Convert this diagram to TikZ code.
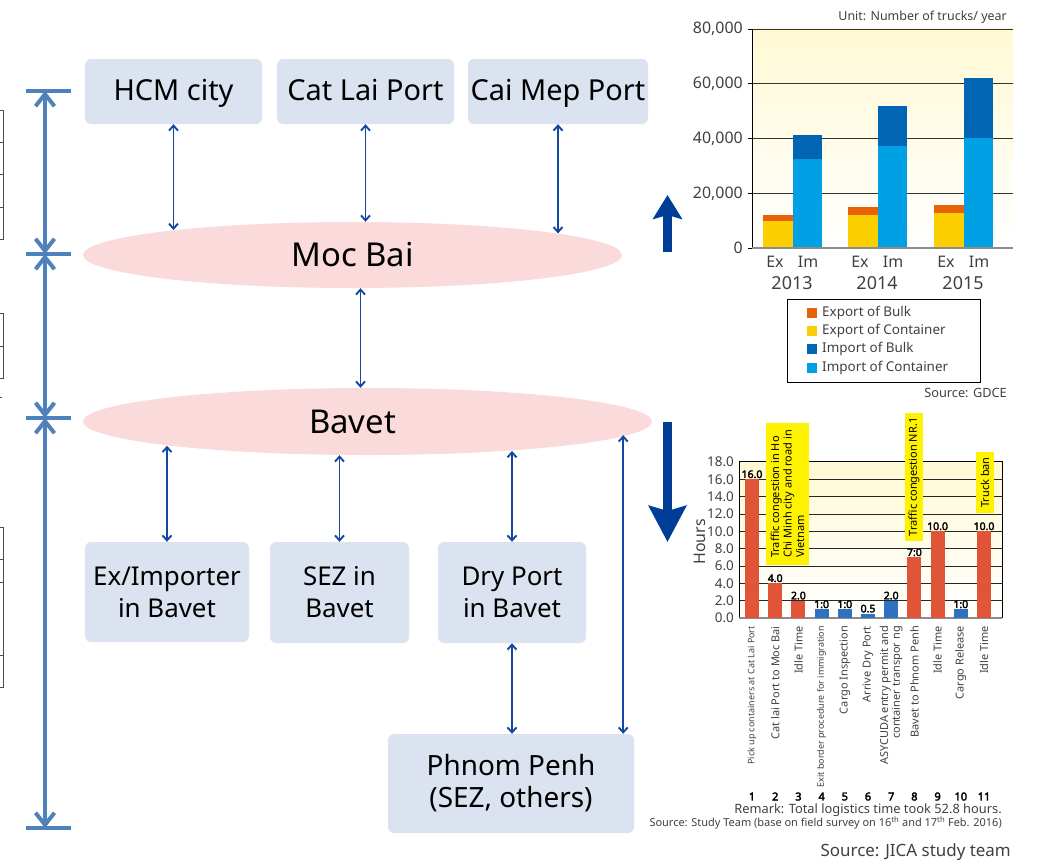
\documentclass[tikz,border=0pt]{standalone}
\usepackage{fontspec}
\setmainfont{Noto Sans}[AutoFakeBold=3]
\definecolor{rtbox}{RGB}{220,227,240}
\definecolor{rtpink}{RGB}{250,218,218}
\definecolor{rtlink}{RGB}{18,72,160}
\definecolor{rtbig}{RGB}{0,61,150}
\definecolor{rtdim}{RGB}{79,129,189}
\definecolor{rtorange}{RGB}{232,98,10}
\definecolor{rtyellow}{RGB}{251,207,0}
\definecolor{rtdark}{RGB}{0,102,179}
\definecolor{rtlight}{RGB}{0,160,228}
\definecolor{rtred}{RGB}{224,85,55}
\definecolor{rtbar}{RGB}{48,112,192}
\definecolor{rtnote}{RGB}{255,242,0}
\definecolor{rtcream}{RGB}{255,249,212}
\definecolor{rtpeach}{RGB}{250,224,200}
\definecolor{rttext}{RGB}{64,64,64}
\usetikzlibrary{arrows.meta,shapes.geometric,calc}
\newcommand{\sz}[2]{\fontsize{#1}{#2}\selectfont}

\begin{document}
\begin{tikzpicture}[x=1bp, y=-1bp,
  place/.style={fill=rtbox, rounded corners=6bp, inner sep=0pt, align=center},
  toprow/.style={place, minimum height=65bp, font=\sz{29}{29}, text height=23bp, text depth=6bp},
  hub/.style={ellipse, fill=rtpink, inner sep=0pt, font=\sz{33}{33}},
  link/.style={<->, >={Straight Barb[length=5bp,width=9bp]}, line width=1.9bp, rtlink},
  span/.style={<->, >={Straight Barb[length=12bp,width=19bp]}, line width=4bp, rtdim},
  note/.style={rotate=90, fill=rtnote, inner sep=1bp, align=left, font=\sz{11}{12.5}},
  chtext/.style={text=rttext, inner sep=1bp}]
  \useasboundingbox (0,0) rectangle (1045,866);

  %--- cut table edge ---
  \draw[line width=0.6bp, black!70] (0,110) -- (3,110) -- (3,239) -- (0,239);
  \foreach \y in {142,174,207} \draw[line width=0.6bp, black!70] (0,\y) -- (3,\y);
  \draw[line width=0.6bp, black!70] (0,313) -- (3,313) -- (3,378) -- (0,378);
  \draw[line width=0.6bp, black!70] (0,346) -- (3,346);
  \draw[line width=0.6bp, black!70] (0,397) -- (2,397);
  \draw[line width=0.6bp, black!70] (0,527) -- (3,527) -- (3,687) -- (0,687);
  \foreach \y in {559,582,655} \draw[line width=0.6bp, black!70] (0,\y) -- (3,\y);

  %--- span arrows ---
  \coordinate (d1) at (45,91);
  \coordinate (d2) at (45,254);
  \coordinate (d3) at (45,418);
  \coordinate (d4) at (45,828);
  \foreach \p in {d1,d2,d3,d4} \draw[line width=4bp, rtdim] ([xshift=-19bp]\p) -- ([xshift=26bp]\p);
  \draw[span] (d1) -- (d2);
  \draw[span] (d2) -- (d3);
  \draw[span] (d3) -- (d4);

  %--- Vietnam side ---
  \node[toprow, minimum width=177bp] (hcm) at (173.5,91.5) {HCM city};
  \node[toprow, minimum width=177bp] (catlai) at (365.5,91.5) {Cat Lai Port};
  \node[toprow, minimum width=180bp] (caimep) at (558,91.5) {Cai Mep Port};

  %--- border gates ---
  \node[hub, minimum width=539bp, minimum height=66bp] (mocbai) at (352.5,255) {Moc Bai};
  \node[hub, minimum width=569bp, minimum height=67bp] (bavet) at (367.5,421.5) {\hspace*{-30bp}Bavet};

  \draw[link] (hcm.south) -- (hcm.south |- mocbai.172);
  \draw[link] (catlai.south) -- (catlai.south |- mocbai.north);
  \draw[link] (caimep.south) -- (caimep.south |- mocbai.6);
  \coordinate (mbout) at ([xshift=8bp]mocbai.south);
  \draw[link] (mbout) -- (mbout |- bavet.north);

  %--- Cambodia side ---
  \node[place, minimum width=164bp, minimum height=100bp, font=\sz{26}{32}] (exim) at (167,592) {Ex/Importer\\in Bavet};
  \node[place, minimum width=139bp, minimum height=101bp, font=\sz{26}{32}] (sez) at (339.5,592.5) {SEZ in\\Bavet};
  \node[place, minimum width=148bp, minimum height=101bp, font=\sz{26}{32}] (dry) at (512,592.5) {Dry Port\\in Bavet};
  \node[place, minimum width=246bp, minimum height=99bp, font=\sz{28}{32}] (phnom) at (511,783.5) {Phnom Penh\\(SEZ, others)};

  \draw[link] (exim.north) -- (exim.north |- bavet.187);
  \draw[link] (sez.north) -- (sez.north |- bavet.south);
  \draw[link] (dry.north) -- (dry.north |- bavet.348);
  \draw[link] (dry.south) -- (dry.south |- phnom.north);
  \coordinate (pptop) at ([xshift=-11bp]phnom.north east);
  \draw[link] (pptop) -- (pptop |- bavet.357);

  %--- big arrows ---
  \coordinate (upbot) at (667.5,252);
  \coordinate (uptop) at (667.5,195);
  \draw[line width=9bp, rtbig, -{Stealth[length=24bp,width=29bp,inset=4bp]}] (upbot) -- (uptop);
  \coordinate (dntop) at (667.5,422);
  \coordinate (dnbot) at (667.5,542);
  \draw[line width=9bp, rtbig, -{Stealth[length=36bp,width=37bp,inset=5bp]}] (dntop) -- (dnbot);

  %--- truck chart ---
  \node[chtext, anchor=east, font=\sz{12.5}{12.5}] (unit) at (1008,17) {Unit: Number of trucks/ year};
  \begin{scope}[shift={(752,248)}, x=1bp, y=2.7375bp]
    \shade[top color=rtcream, middle color=rtpeach, bottom color=white] (0,0) rectangle (261,80);
    \foreach \v in {20,40,60,80} \draw[line width=0.8bp, black!80] (0,\v) -- (261,\v);
    \foreach \gx/\ec/\eb/\ic/\ib/\yr in {11/9.9/12.1/32.5/41.3/2013, 96/12.1/15/37.3/51.9/2014, 182/12.8/15.7/40.2/62.1/2015} {
      \fill[rtyellow] (\gx,0) rectangle (\gx+30,\ec);
      \fill[rtorange] (\gx,\ec) rectangle (\gx+30,\eb);
      \fill[rtlight] (\gx+30,0) rectangle (\gx+59,\ic);
      \fill[rtdark] (\gx+30,\ic) rectangle (\gx+59,\ib);
      \node[chtext, font=\sz{16}{16}] (ex\yr) at (\gx+12,-5.1) {Ex};
      \node[chtext, font=\sz{16}{16}] (im\yr) at (\gx+45,-5.1) {Im};
      \node[chtext, font=\sz{18}{18}] (yr\yr) at (\gx+29,-12.8) {\yr};
    }
    \draw[line width=1bp] (0,0) -- (0,80);
    \draw[line width=2bp, black!45] (0,0) -- (261,0);
    \foreach \v/\t in {0/0,20/{20,000},40/{40,000},60/{60,000},80/{80,000}} {
      \draw[line width=0.8bp] (-4,\v) -- (0,\v);
      \node[chtext, anchor=east, font=\sz{16}{16}] (tk\v) at (-8,\v) {\t};
    }
  \end{scope}

  %--- legend ---
  \draw[line width=0.8bp] (787,299) rectangle (980,382);
  \foreach \y/\c/\t in {313/rtorange/Export of Bulk, 331/rtyellow/Export of Container, 349/rtdark/Import of Bulk, 368/rtlight/Import of Container} {
    \fill[\c] (807,\y-5) rectangle ++(10,10);
    \node[chtext, anchor=west, font=\sz{13.5}{13.5}] (lg\y) at (821,\y) {\t};
  }
  \node[chtext, anchor=east, font=\sz{12.8}{12.8}] (gdce) at (1008,393) {Source: GDCE};

  %--- hours chart ---
  \begin{scope}[shift={(739,618)}, x=1bp, y=8.667bp]
    \shade[top color=rtcream, middle color=rtpeach, bottom color=white] (0,0) rectangle (263,18);
    \foreach \v in {2,4,...,16} \draw[line width=0.8bp, black!85] (0,\v) -- (263,\v);
    \draw[line width=1bp] (0,0) -- (0,18) -- (263,18) -- (263,0);
    \draw[line width=2bp, black!45] (0,0) -- (263,0);
    \foreach \v in {0,2,...,18}
      \node[chtext, anchor=east, font=\sz{13.5}{13.5}] (hk\v) at (-4,\v) {\v.0};
    \foreach \i/\h/\c/\t in {1/16/rtred/16.0, 2/4/rtred/4.0, 3/2/rtred/2.0, 4/1/rtbar/1:0, 5/1/rtbar/1:0, 6/0.5/rtbar/0.5, 7/2/rtbar/2.0, 8/7/rtred/7:0, 9/10/rtred/10.0, 10/1/rtbar/1:0, 11/10/rtred/10.0} {
      \fill[\c] ({6+23.2*(\i-1)},0) rectangle ({20+23.2*(\i-1)},\h);
      \node[above, inner sep=1bp, font=\bfseries\sz{10.5}{10.5}] (val\i) at ({13+23.2*(\i-1)},\h) {\t};
      \node[font=\bfseries\sz{11}{11}] (num\i) at ({13+23.2*(\i-1)},-20.6) {\i};
    }
  \end{scope}
  \node[chtext, rotate=90, font=\sz{16}{16}] (hours) at (700,542) {Hours};

  \node[note, minimum width=142bp, minimum height=43bp] (cong1) at (787.5,494) {Traffic congestion in Ho\\Chi Minh city and road in\\Vietnam};
  \node[note, minimum width=128bp, minimum height=18bp] (cong2) at (914,477) {Traffic congestion NR.1};
  \node[note, minimum width=61bp, minimum height=18bp] (ban) at (985,482.5) {Truck ban};

  \foreach \i/\f/\t in {1/9/Pick up containers at Cat Lai Port, 2/11/Cat lai Port to Moc Bai, 3/11/Idle Time, 4/9/Exit border procedure for immigration, 5/11/Cargo Inspection, 6/11/Arrive Dry Port, 7/11/{ASYCUDA entry permit and\\container transpor ng}, 8/11/Bavet to Phnom Penh, 9/11/Idle Time, 10/11/Cargo Release, 11/11/Idle Time}
    \node[chtext, rotate=90, anchor=east, align=right, font=\sz{\f}{10}] (cat\i) at ({752+23.2*(\i-1)},625) {\t};

  \node[chtext, anchor=east, font=\sz{12.9}{12.9}] (remark) at (1003,810) {Remark: Total logistics time took 52.8 hours.};
  \node[chtext, anchor=east, font=\sz{11}{11}] (survey) at (1003,823) {Source: Study Team (base on field survey on 16\textsuperscript{th} and 17\textsuperscript{th} Feb. 2016)};
  \node[chtext, anchor=east, font=\sz{17}{17}] (jica) at (1012,852) {Source: JICA study team};
\end{tikzpicture}
\end{document}
